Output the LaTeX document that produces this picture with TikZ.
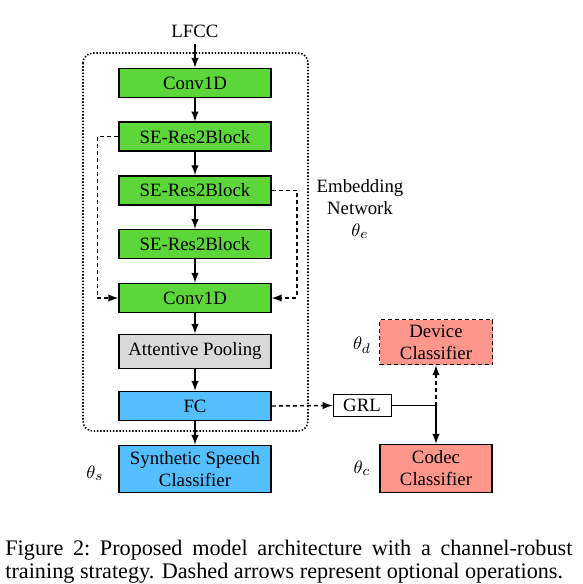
\documentclass[tikz,border=0pt]{standalone}
\usepackage{fontspec}
\setmainfont{Liberation Serif}
\usepackage{amsmath}
\usetikzlibrary{positioning}

\definecolor{blockgreen}{RGB}{92,214,58}
\definecolor{poolgray}{RGB}{217,217,217}
\definecolor{fcblue}{RGB}{85,190,255}
\definecolor{clfred}{RGB}{255,150,140}

\tikzset{
    block/.style={draw, line width=0.8pt, minimum width=76pt, minimum height=14.5pt, inner sep=0pt, align=center},
    flow/.style={->, line width=0.7pt},
    optflow/.style={->, line width=0.7pt, dashed, dash pattern=on 2pt off 1.5pt},
    caption/.style={anchor=base west, inner sep=0pt, font=\fontsize{11.1}{13}\selectfont}
}

\begin{document}
\begin{tikzpicture}[>=latex, x=0.5pt, y=-0.5pt, every node/.style={font=\fontsize{9.4}{11}\selectfont}]
    \useasboundingbox (0,0) rectangle (583,584);

    % Embedding network frame
    \draw[line width=0.8pt, dash pattern=on 0.7pt off 0.9pt, rounded corners=5pt] (83,53) rectangle (308,431);

    % Input
    \node (LFCC) at (195,31) {LFCC};

    % First convolution
    \node[block, fill=blockgreen] (Conv-1) at (195,83) {Conv1D};

    % SE-Res2Blocks
    \foreach \i in {1,...,3}
    {
        \node[block, fill=blockgreen] (SE-\i) at (195,{83+\i*53.7}) {SE-Res2Block};
    }

    % Second convolution, pooling and FC
    \node[block, fill=blockgreen] (Conv-2) at (195,298) {Conv1D};
    \node[block, fill=poolgray, minimum height=17pt] (Pool) at (195,351.5) {Attentive Pooling};
    \node[block, fill=fcblue] (FC) at (195,406) {FC};

    % Classifiers
    \node[block, fill=fcblue, minimum height=23.5pt] (SSC) at (195,469) {Synthetic Speech\\Classifier};
    \node[block, fill=clfred, dashed, dash pattern=on 2pt off 1.5pt, minimum width=56.5pt, minimum height=22.5pt] (Device) at (436,342) {Device\\Classifier};
    \node[block, fill=clfred, minimum width=56pt, minimum height=24pt] (Codec) at (436,468.5) {Codec\\Classifier};
    \node[draw, line width=0.5pt, minimum width=29pt, minimum height=11pt, inner sep=0pt] (GRL) at (362,405.5) {GRL};
    \coordinate (Split) at (Codec.north |- GRL.east);

    % Parameter labels
    \node[align=center] (Embed) at (360,209) {Embedding\\Network\\$\theta_e$};
    \node (Theta-s) at (95,473) {$\theta_s$};
    \node (Theta-d) at (362,345) {$\theta_d$};
    \node (Theta-c) at (362,468) {$\theta_c$};

    % Main path
    \draw[flow] (LFCC) -- (Conv-1);
    \draw[flow] (Conv-1) -- (SE-1);
    \foreach \i/\j in {1/2, 2/3}
    {
        \draw[flow] (SE-\i) -- (SE-\j);
    }
    \draw[flow] (SE-3) -- (Conv-2);
    \draw[flow] (Conv-2) -- (Pool);
    \draw[flow] (Pool) -- (FC);
    \draw[flow] (FC) -- (SSC);

    % Optional connections
    \draw[optflow] (SE-1.west) -- ++(-21,0) |- (Conv-2.west);
    \draw[optflow] (SE-2.east) -- ++(25,0) |- (Conv-2.east);
    \draw[optflow] (FC.east) -- (GRL.west);
    \draw[optflow] (Split) -- (Device.south);

    % GRL to codec classifier
    \draw[line width=0.7pt] (GRL.east) -- (Split);
    \draw[flow] (Split) -- (Codec.north);

    % Caption
    \node[caption] (Cap-1) at (5,555) {\makebox[283.5pt][s]{Figure 2:\ Proposed model architecture with a channel-robust}};
    \node[caption] (Cap-2) at (5,578) {training strategy. Dashed arrows represent optional operations.};
\end{tikzpicture}
\end{document}
